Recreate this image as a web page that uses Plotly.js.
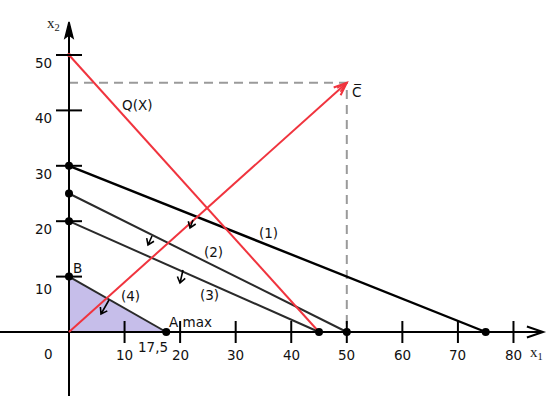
<!DOCTYPE html>
<html>
<head>
<meta charset="utf-8">
<script src="https://cdn.plot.ly/plotly-3.0.1.min.js"></script>
<style>html,body{margin:0;padding:0;background:#fff;}#chart{width:555px;height:399px;}</style>
</head>
<body>
<div id="chart"></div>
<script>
// ---------- data ----------
const constraintNames = ['(1)', '(2)', '(3)', '(4)'];
const x1Intercepts = [75, 50, 45, 17.5];
const x2Intercepts = [30, 25, 20, 10];
const objLineX = [0, 45];
const objLineY = [50, 0];
const objName = 'Q(X)';
const cVectorX = [0, 50];
const cVectorY = [0, 45];
const cName = 'C\u0305';
const xTickVals = [10, 20, 30, 40, 50, 60, 70, 80];
const xTickText = ['10', '20', '30', '40', '50', '60', '70', '80'];
const yTickVals = [10, 20, 30, 40, 50];
const yTickText = ['10', '20', '30', '40', '50'];
const pointA = [17.5, 0];
const pointB = [0, 10];
const pointALabel = 'A max';
const pointBLabel = 'B';
const pointAText = '17,5';

// ---------- layout helpers (pixel geometry) ----------
const X0PX = 69, Y0PX = 332, SX = 5.556, SY = 5.54, W = 555, H = 399;
const px2x = p => (p - X0PX) / SX;
const py2y = p => (Y0PX - p) / SY;

const BLACK = '#000';
const DARK = '#2a2a2a';
const RED = 'rgb(240,52,62)';
const GRAY = '#9a9a9a';
const FONT = 'DejaVu Sans, Verdana, sans-serif';
const FS = 13.5;

const traces = [];
const shapes = [];
const annotations = [];

// feasible region
traces.push({
  x: [0, pointB[0], pointA[0], 0], y: [0, pointB[1], pointA[1], 0],
  mode: 'lines', fill: 'toself', fillcolor: 'rgb(198,190,234)',
  line: {width: 0}, hoverinfo: 'skip', showlegend: false
});

// dashed helpers of C
traces.push({
  x: [0, cVectorX[1], cVectorX[1]], y: [cVectorY[1], cVectorY[1], 0],
  mode: 'lines', line: {color: GRAY, width: 2, dash: '9px,6px'},
  hoverinfo: 'skip', showlegend: false
});

// axes lines
const xAxisEnd = px2x(543), yAxisEnd = py2y(22);
traces.push({x: [px2x(0), xAxisEnd], y: [0, 0], mode: 'lines', line: {color: BLACK, width: 2}, hoverinfo: 'skip', showlegend: false});
traces.push({x: [0, 0], y: [py2y(396), yAxisEnd - 1], mode: 'lines', line: {color: BLACK, width: 2}, hoverinfo: 'skip', showlegend: false});

// constraint lines
const lineStyles = [
  {color: BLACK, width: 2.4},
  {color: DARK, width: 2},
  {color: DARK, width: 2},
  {color: DARK, width: 2}
];
constraintNames.forEach((n, i) => {
  traces.push({
    x: [0, x1Intercepts[i]], y: [x2Intercepts[i], 0], mode: 'lines',
    line: lineStyles[i], hoverinfo: 'skip', showlegend: false
  });
});

// objective line Q(X)
traces.push({x: objLineX, y: objLineY, mode: 'lines', line: {color: RED, width: 2}, hoverinfo: 'skip', showlegend: false});
// C vector
traces.push({x: cVectorX, y: cVectorY, mode: 'lines', line: {color: RED, width: 2}, hoverinfo: 'skip', showlegend: false});

// intercept dots
traces.push({
  x: x1Intercepts.concat(x1Intercepts.map(() => 0)),
  y: x1Intercepts.map(() => 0).concat(x2Intercepts),
  mode: 'markers', marker: {color: BLACK, size: 8}, hoverinfo: 'skip', showlegend: false
});
traces.push({x: [objLineX[0]], y: [objLineY[0]], mode: 'markers', marker: {color: RED, size: 4}, hoverinfo: 'skip', showlegend: false});

// ticks
xTickVals.forEach(v => shapes.push({type: 'line', xref: 'x', yref: 'y', ysizemode: 'pixel', yanchor: 0, x0: v, x1: v, y0: -11, y1: 11, line: {color: BLACK, width: 2}}));
yTickVals.forEach(v => shapes.push({type: 'line', xref: 'x', yref: 'y', xsizemode: 'pixel', xanchor: 0, x0: -13, x1: 13, y0: v, y1: v, line: {color: BLACK, width: 2}}));

// arrow head helper (pixel space, y up)
function vhead(ax, ay, tx, ty, len, ang, withShaft, color, width) {
  const L = Math.hypot(tx, ty), ux = tx / L, uy = ty / L;
  const r = a => [len * (ux * Math.cos(a) - uy * Math.sin(a)), len * (ux * Math.sin(a) + uy * Math.cos(a))];
  const b1 = r(ang), b2 = r(-ang);
  let p = `M ${b1[0].toFixed(1)} ${b1[1].toFixed(1)} L 0 0 L ${b2[0].toFixed(1)} ${b2[1].toFixed(1)}`;
  if (withShaft) p += ` M ${tx} ${ty} L 0 0`;
  shapes.push({type: 'path', xref: 'x', yref: 'y', xsizemode: 'pixel', ysizemode: 'pixel', xanchor: ax, yanchor: ay, path: p, line: {color: color, width: width}});
}

// x axis arrow
vhead(xAxisEnd, 0, -1, 0, 17, 0.33, false, BLACK, 2);
// y axis arrow (filled)
shapes.push({type: 'path', xref: 'x', yref: 'y', xsizemode: 'pixel', ysizemode: 'pixel', xanchor: 0, yanchor: yAxisEnd,
  path: 'M 0 0 L 4 -16 L 0 -13 L -4 -16 Z', fillcolor: BLACK, line: {color: BLACK, width: 1.5}});

// C arrow head (double barbs)
vhead(cVectorX[1], cVectorY[1], -50, -45, 14, 0.38, false, RED, 2);
vhead(cVectorX[1], cVectorY[1], -50, -45, 11, 0.22, false, RED, 1.5);

// small direction arrows on constraints (head position in px, tail offset in px y-up)
const dirArrows = [
  {hx: 190, hy: 228, tx: 3, ty: 8},
  {hx: 148, hy: 245, tx: 4, ty: 9},
  {hx: 180, hy: 283, tx: 3, ty: 13},
  {hx: 101, hy: 314, tx: 8, ty: 14}
];
dirArrows.forEach(a => vhead(px2x(a.hx), py2y(a.hy), a.tx, a.ty, 7, 0.6, true, BLACK, 1.6));

// text
const baseFont = () => ({family: FONT, size: FS, color: '#111'});
function txt(text, xpx, ypx, opts) {
  annotations.push(Object.assign({
    text: text, x: px2x(xpx), y: py2y(ypx), xref: 'x', yref: 'y', showarrow: false,
    font: baseFont(), xanchor: 'center', yanchor: 'middle'
  }, opts || {}));
}
xTickVals.forEach((v, i) => annotations.push({text: xTickText[i], x: v, y: 0, yshift: -23, xref: 'x', yref: 'y', showarrow: false, font: baseFont(), xanchor: 'center', yanchor: 'middle'}));
yTickVals.forEach((v, i) => annotations.push({text: yTickText[i], x: 0, y: v, xshift: -26, yshift: v === 10 ? -12 : -8, xref: 'x', yref: 'y', showarrow: false, font: baseFont(), xanchor: 'center', yanchor: 'middle'}));
annotations.push({text: '0', x: 0, y: 0, xshift: -21, yshift: -22, xref: 'x', yref: 'y', showarrow: false, font: baseFont()});
annotations.push({text: pointAText, x: pointA[0], y: pointA[1], xshift: -13, yshift: -15, xref: 'x', yref: 'y', showarrow: false, font: baseFont()});

const constraintLabelPx = [[268, 233], [213, 252], [209, 295], [130, 296]];
constraintNames.forEach((n, i) => txt(n, constraintLabelPx[i][0], constraintLabelPx[i][1]));
txt(objName, 137, 105);
txt(pointBLabel, 77, 268);
txt(pointALabel, 167, 322, {xanchor: 'left'});
txt(cName, 357, 92);
txt('x<sub>2</sub>', 53, 24, {font: {family: 'Liberation Serif, serif', size: 15, color: '#222'}});
txt('x<sub>1</sub>', 536, 353, {font: {family: 'Liberation Serif, serif', size: 15, color: '#222'}});

const layout = {
  width: W, height: H, margin: {l: 0, r: 0, t: 0, b: 0},
  paper_bgcolor: '#fff', plot_bgcolor: '#fff', showlegend: false,
  xaxis: {range: [px2x(0), px2x(W)], visible: false, fixedrange: true},
  yaxis: {range: [py2y(H), py2y(0)], visible: false, fixedrange: true},
  shapes: shapes, annotations: annotations
};
Plotly.newPlot('chart', traces, layout, {staticPlot: true, displayModeBar: false});
</script>
</body>
</html>
